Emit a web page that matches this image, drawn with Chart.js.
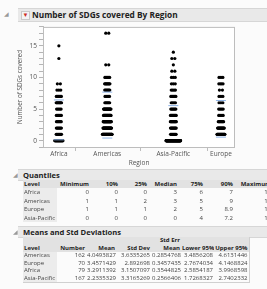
<!DOCTYPE html>
<html>
<head>
<meta charset="utf-8">
<script src="https://cdn.jsdelivr.net/npm/chart.js@4.4.1/dist/chart.umd.min.js"></script>
<style>
  body { margin: 0; width: 267px; height: 289px; overflow: hidden; background: #fbfbfb; font-family: "Open Sans", sans-serif; position: relative; color: #333; }
  .bar { position: absolute; left: 18px; right: 0; background: #e9e9e9; border-top: 1px solid #d6d6d6; border-bottom: 1px solid #d6d6d6; font-weight: bold; color: #222; white-space: nowrap; }
  .tri { position: absolute; color: #999; font-size: 6px; }
  #title { top: 8px; height: 12px; font-size: 8.3px; line-height: 12px; padding-left: 3px; left: 18px; }
  #title .menu { display: inline-block; color: #cc2a22; font-size: 6px; background: #f4f4f4; border: 1px solid #c9c9c9; width: 7px; height: 7px; line-height: 7px; text-align: center; margin-right: 2px; vertical-align: 1px; }
  #plot { position: absolute; left: 0; top: 21px; width: 240px; height: 149px; }
  #qHead { top: 169px; height: 10px; font-size: 7.6px; line-height: 10px; padding-left: 5px; }
  #mHead { top: 226px; height: 10px; font-size: 7.6px; line-height: 10px; padding-left: 5px; }
  table { position: absolute; left: 23px; border-collapse: collapse; table-layout: fixed; font-size: 6px; }
  td, th { padding: 0 1px 0 1px; white-space: nowrap; overflow: hidden; text-align: right; color: #444; font-weight: normal; }
  th { background: #e2e2e2; font-weight: bold; color: #222; }
  td.lvl, th.lvl { text-align: left; }
  td.lvl { background: #ececec; }
  #qTable { top: 180px; }
  #qTable th { height: 8px; line-height: 8px; }
  #qTable td { height: 8.5px; line-height: 8.5px; }
  #mTable { top: 237px; border-right: 1px solid #d0d0d0; border-bottom: 1px solid #d0d0d0; }
  #mTable th { height: 15px; line-height: 7.5px; vertical-align: bottom; }
  #mTable td { height: 7.5px; line-height: 7.5px; }
</style>
</head>
<body>
<div class="bar" id="title"><span class="menu">&#9660;</span>Number of SDGs covered By Region</div>
<span class="tri" style="left:4px;top:10px;">&#9698;</span>
<div id="plot"><canvas id="chart" width="240" height="149"></canvas></div>
<span class="tri" style="left:13px;top:171px;">&#9698;</span>
<div class="bar" id="qHead">Quantiles</div>
<table id="qTable"></table>
<span class="tri" style="left:13px;top:228px;">&#9698;</span>
<div class="bar" id="mHead">Means and Std Deviations</div>
<table id="mTable"></table>
<script>
// regions in plot order, with sample sizes
const regions = ['Africa', 'Americas', 'Asia-Pacific', 'Europe'];
const regionN = [79, 162, 167, 70];

// number of observations at each SDG count (index = number of SDGs covered)
const africaCounts = [24, 8, 7, 6, 7, 5, 8, 7, 3, 2, 0, 0, 0, 1, 0, 1];
const americasCounts = [0, 36, 27, 24, 20, 19, 6, 5, 7, 8, 6, 0, 2, 0, 0, 0, 0, 2];
const asiaPacificCounts = [93, 9, 10, 11, 10, 7, 4, 7, 4, 3, 3, 2, 1, 2, 1];
const europeCounts = [0, 22, 15, 8, 5, 5, 3, 3, 2, 4, 3];
const regionCounts = [africaCounts, americasCounts, asiaPacificCounts, europeCounts];

const yTicks = [0, 5, 10, 15];

// Quantiles table
const qLevels = ['Africa', 'Americas', 'Europe', 'Asia-Pacific'];
const qMin = [0, 1, 1, 0];
const q10 = [0, 1, 1, 0];
const q25 = [0, 2, 1, 0];
const qMedian = [3, 3, 2, 0];
const q75 = [6, 5, 5, 4];
const q90 = [7, 9, 8.9, 7.2];
const qMax = [15, 17, 10, 14];

// Means and Std Deviations table
const mLevels = ['Americas', 'Europe', 'Africa', 'Asia-Pacific'];
const mNumber = [162, 70, 79, 167];
const mMean = ['4.0493827', '3.4571429', '3.2911392', '2.2335329'];
const mStdDev = ['3.6335265', '2.892698', '3.1507097', '3.3165269'];
const mStdErr = ['0.2854768', '0.3457435', '0.3544825', '0.2566406'];
const mLower = ['3.4856208', '2.7674034', '2.5854187', '1.7268327'];
const mUpper = ['4.6131446', '4.1468824', '3.9968598', '2.7402332'];

// --- tables
function buildTable(id, headers, widths, rows) {
  const t = document.getElementById(id);
  let html = '<colgroup>' + widths.map(w => `<col style="width:${w}px">`).join('') + '</colgroup>';
  html += '<tr>' + headers.map((h, i) => `<th class="${i === 0 ? 'lvl' : ''}">${h}</th>`).join('') + '</tr>';
  rows.forEach(r => {
    html += '<tr>' + r.map((v, i) => `<td class="${i === 0 ? 'lvl' : ''}">${v}</td>`).join('') + '</tr>';
  });
  t.innerHTML = html;
  t.style.width = widths.reduce((a, b) => a + b, 0) + 'px';
}

buildTable('qTable',
  ['Level', 'Minimum', '10%', '25%', 'Median', '75%', '90%', 'Maximum'],
  [34, 33, 29, 29, 30, 26, 30, 38],
  qLevels.map((l, i) => [l, qMin[i], q10[i], q25[i], qMedian[i], q75[i], q90[i], qMax[i]]));

buildTable('mTable',
  ['Level', 'Number', 'Mean', 'Std Dev', 'Std Err<br>Mean', 'Lower 95%', 'Upper 95%'],
  [34, 29, 30, 35, 30, 33, 35],
  mLevels.map((l, i) => [l, mNumber[i], mMean[i], mStdDev[i], mStdErr[i], mLower[i], mUpper[i]]));

// --- plot
const total = regionN.reduce((a, b) => a + b, 0);
const bounds = [];
const centers = [];
let acc = 0;
regionN.forEach(n => { centers.push(acc + n / 2); acc += n; bounds.push(acc); });

const unitsPerPx = total / 192; // plot area is about 192px wide
const dots = [];
regionCounts.forEach((counts, r) => {
  counts.forEach((c, v) => {
    if (!c) return;
    // spread equal values side by side, wider rows for bigger counts
    const span = c > 1 ? Math.min((c - 1) * 3, 1.35 * Math.sqrt(c) + 1.5) : 0;
    for (let i = 0; i < c; i++) {
      const off = c > 1 ? (i / (c - 1) - 0.5) * span : 0;
      dots.push({ x: centers[r] + off * unitsPerPx, y: v });
    }
  });
});

// std dev lines at mean +/- sd
const sdLines = [];
regions.forEach((name, r) => {
  const k = mLevels.indexOf(name);
  const m = parseFloat(mMean[k]), s = parseFloat(mStdDev[k]);
  [m + s, m - s].forEach(y => {
    sdLines.push({ x: centers[r] - 5 * unitsPerPx, y: y });
    sdLines.push({ x: centers[r] + 5 * unitsPerPx, y: y });
    sdLines.push({ x: centers[r], y: null });
  });
});

const framePlugin = {
  id: 'frame',
  beforeDraw(chart) {
    const { ctx, chartArea: a } = chart;
    ctx.save();
    ctx.fillStyle = '#fff';
    ctx.fillRect(a.left, a.top, a.right - a.left, a.bottom - a.top);
    ctx.restore();
  },
  afterDraw(chart) {
    const { ctx, chartArea: a } = chart;
    const xs = chart.scales.x;
    ctx.save();
    ctx.strokeStyle = '#bdbdbd';
    ctx.lineWidth = 1;
    ctx.strokeRect(a.left + 0.5, a.top + 0.5, a.right - a.left - 1, a.bottom - a.top);
    ctx.beginPath();
    bounds.slice(0, -1).forEach(b => {
      const px = Math.round(xs.getPixelForValue(b)) + 0.5;
      ctx.moveTo(px, a.bottom);
      ctx.lineTo(px, a.bottom + 4);
    });
    ctx.stroke();
    ctx.restore();
  }
};

new Chart(document.getElementById('chart').getContext('2d'), {
  type: 'scatter',
  data: {
    datasets: [
      {
        data: sdLines,
        type: 'line',
        showLine: true,
        spanGaps: false,
        borderColor: '#8db3e6',
        borderWidth: 1,
        pointRadius: 0
      },
      {
        data: dots,
        backgroundColor: '#000',
        borderWidth: 0,
        pointRadius: 1.6
      }
    ]
  },
  options: {
    responsive: false,
    animation: false,
    layout: { padding: { left: 16, top: 5, right: 5, bottom: 0 } },
    plugins: { legend: { display: false }, tooltip: { enabled: false } },
    scales: {
      x: {
        type: 'linear',
        min: 0,
        max: total,
        afterBuildTicks: ax => { ax.ticks = centers.map(v => ({ value: v })); },
        afterFit: s => { s.height = 23; },
        ticks: {
          callback: (v, i) => regions[i],
          autoSkip: false,
          maxRotation: 0,
          padding: 3,
          color: '#555',
          font: { family: 'Open Sans', size: 6.5 }
        },
        grid: { display: false, drawTicks: false },
        border: { display: false },
        title: {
          display: true,
          text: 'Region',
          color: '#555',
          font: { family: 'Open Sans', size: 6.5 },
          padding: { top: 0, bottom: 3 }
        }
      },
      y: {
        min: -1,
        max: 18,
        afterBuildTicks: ax => {
          const t = [];
          for (let v = -1; v <= 18; v++) t.push({ value: v });
          ax.ticks = t;
        },
        afterFit: s => { s.width = 27; },
        ticks: {
          autoSkip: false,
          callback: v => (yTicks.includes(v) ? String(v) : ''),
          padding: 2,
          color: '#555',
          font: { family: 'Open Sans', size: 6.5 }
        },
        grid: { drawOnChartArea: false, tickLength: 4, color: '#b5b5b5' },
        border: { color: '#bdbdbd' },
        title: {
          display: true,
          text: 'Number of SDGs covered',
          color: '#555',
          font: { family: 'Open Sans', size: 6.3 },
          padding: { top: 0, bottom: 2 }
        }
      }
    }
  },
  plugins: [framePlugin]
});
</script>
</body>
</html>
